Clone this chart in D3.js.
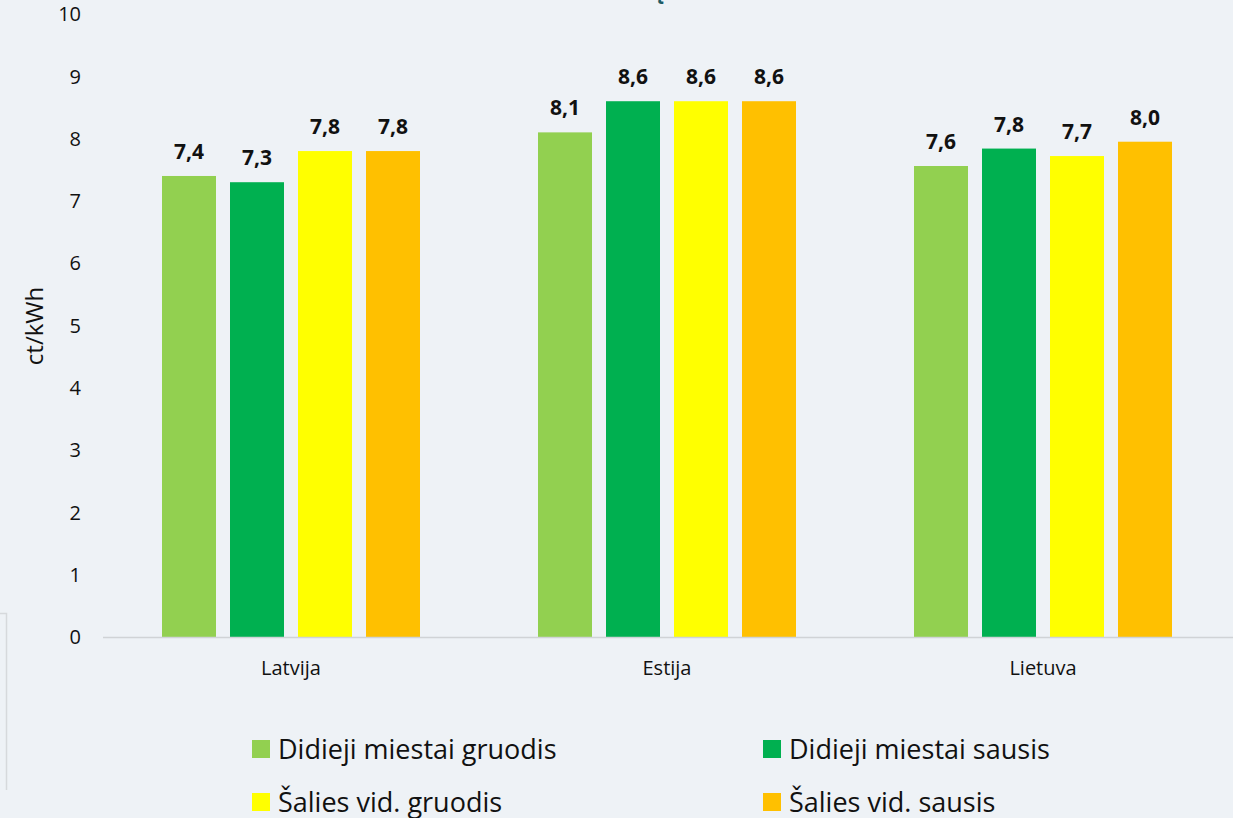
<!DOCTYPE html>
<html>
<head>
<meta charset="utf-8">
<script src="https://cdn.jsdelivr.net/npm/d3@7"></script>
<style>
  body { margin: 0; background: #eef2f6; overflow: hidden; }
  svg { display: block; font-family: "Open Sans", "Noto Sans", sans-serif; }
</style>
</head>
<body>
<div id="chart"></div>
<script>
// data
var countries = ["Latvija", "Estija", "Lietuva"];
var seriesNames = ["Didieji miestai gruodis", "Didieji miestai sausis", "Šalies vid. gruodis", "Šalies vid. sausis"];
var seriesColors = ["#92d050", "#00b050", "#ffff00", "#ffc000"];
var gruodisCity = [7.4, 8.1, 7.56];
var sausisCity = [7.3, 8.6, 7.84];
var gruodisAvg = [7.8, 8.6, 7.72];
var sausisAvg = [7.8, 8.6, 7.95];
var yTicks = [0, 1, 2, 3, 4, 5, 6, 7, 8, 9, 10];

var series = [gruodisCity, sausisCity, gruodisAvg, sausisAvg];

var width = 1233, height = 818;

var svg = d3.select("#chart").append("svg")
  .attr("width", width)
  .attr("height", height);

// title cut off at the top, only the ogonek shows
svg.append("text")
  .attr("x", 657).attr("y", -2)
  .attr("text-anchor", "middle")
  .style("font-size", "26px").style("font-weight", "bold")
  .style("fill", "#1d5c66")
  .text("ų");

// left frame piece
svg.append("path")
  .attr("d", "M0,613.5H6.5V790")
  .attr("fill", "none").attr("stroke", "#d6d9dc").attr("stroke-width", 1.5);

var x0 = d3.scaleBand().domain(countries).range([103, 1231]);
var innerW = 4 * 54 + 3 * 14;
var x1 = d3.scaleBand().domain(d3.range(4))
  .range([(x0.bandwidth() - innerW) / 2, (x0.bandwidth() + innerW) / 2])
  .paddingInner(14 / 68);

var y = d3.scaleLinear().domain([0, 10]).range([637, 14]);

// y tick labels
svg.selectAll(".ytick").data(yTicks).enter().append("text")
  .attr("class", "ytick")
  .attr("x", 81).attr("y", function(d) { return y(d); })
  .attr("dy", "0.36em")
  .attr("text-anchor", "end")
  .style("font-size", "20px").style("fill", "#111")
  .text(function(d) { return d; });

svg.append("text")
  .attr("transform", "translate(43," + 326 + ") rotate(-90)")
  .attr("text-anchor", "middle")
  .style("font-size", "24px").style("fill", "#111")
  .text("ct/kWh");

// bars
var groups = svg.selectAll(".grp").data(countries).enter().append("g")
  .attr("class", "grp")
  .attr("transform", function(d) { return "translate(" + x0(d) + ",0)"; });

groups.each(function(c, ci) {
  var g = d3.select(this);
  series.forEach(function(s, si) {
    var v = s[ci];
    g.append("rect")
      .attr("x", x1(si))
      .attr("y", y(v))
      .attr("width", x1.bandwidth())
      .attr("height", y(0) - y(v))
      .attr("fill", seriesColors[si]);
    g.append("text")
      .attr("x", x1(si) + x1.bandwidth() / 2)
      .attr("y", y(v) - 17)
      .attr("text-anchor", "middle")
      .style("font-size", "21px").style("font-weight", "bold").style("fill", "#111")
      .text(v.toFixed(1).replace(".", ","));
  });
});

// x axis line
svg.append("line")
  .attr("x1", 103).attr("x2", width)
  .attr("y1", y(0) + 0.5).attr("y2", y(0) + 0.5)
  .attr("stroke", "#d0d3d6").attr("stroke-width", 1.5);

svg.selectAll(".xlab").data(countries).enter().append("text")
  .attr("x", function(d) { return x0(d) + x0.bandwidth() / 2; })
  .attr("y", 675)
  .attr("text-anchor", "middle")
  .style("font-size", "20px").style("fill", "#111")
  .text(function(d) { return d; });

// legend
var legX = [252, 763], legY = [749, 802];
seriesNames.forEach(function(n, i) {
  var lx = legX[i % 2], ly = legY[Math.floor(i / 2)];
  svg.append("rect")
    .attr("x", lx).attr("y", ly - 9)
    .attr("width", 18).attr("height", 18)
    .attr("fill", seriesColors[i]);
  svg.append("text")
    .attr("x", lx + 26).attr("y", ly)
    .attr("dy", "0.36em")
    .style("font-size", "27px").style("fill", "#111")
    .text(n);
});
</script>
</body>
</html>
